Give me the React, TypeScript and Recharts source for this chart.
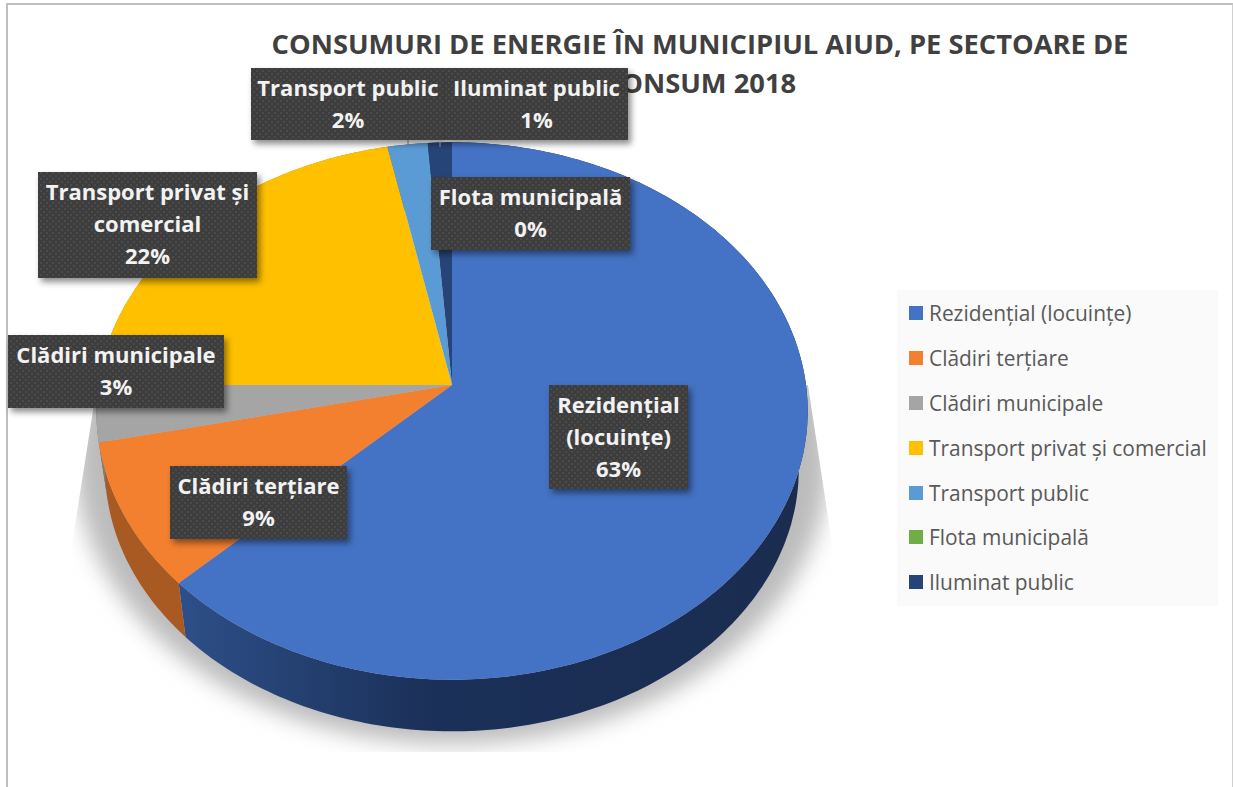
import { Legend, Pie, PieChart } from "recharts"

const categories = [
  "Rezidențial (locuințe)",
  "Clădiri terțiare",
  "Clădiri municipale",
  "Transport privat și comercial",
  "Transport public",
  "Flota municipală",
  "Iluminat public",
]
const shares = [62.8, 8.8, 3.4, 21.8, 2, 0, 1.2]
const colors = ["#4472c4", "#f2802f", "#a5a5a5", "#ffc000", "#5b9bd5", "#70ad47", "#264478"]
const wallColors = ["url(#wallBlue)", "#a95a22", "#7c7c7c", "#bf9000", "#44749f", "#54823a", "#1c335a"]

const data = categories.map((name, i) => ({ name, value: shares[i], fill: colors[i] }))
const shadowData = [{ name: "umbra", value: shares.reduce((a, b) => a + b, 0) }]

// label boxes sit where the original had them dragged, not on the slices
const labelBoxes = [
  { x: 549, y: 385, w: 139, h: 104, lines: ["Rezidențial", "(locuințe)"] },
  { x: 170, y: 466, w: 177, h: 73, lines: ["Clădiri terțiare"] },
  { x: 8, y: 335, w: 216, h: 73, lines: ["Clădiri municipale"] },
  { x: 38, y: 172, w: 219, h: 106, lines: ["Transport privat și", "comercial"] },
  { x: 251, y: 68, w: 194, h: 72, lines: ["Transport public"], leader: 408 },
  { x: 431, y: 177, w: 199, h: 73, lines: ["Flota municipală"] },
  { x: 445, y: 68, w: 183, h: 72, lines: ["Iluminat public"], leader: 440 },
]

const FONT = "'Open Sans', sans-serif"
const YSCALE = 0.752
const TILT = 0.0967

// perspective view of the pie disc, so the centre is not the middle of the ellipse
function project(cx: number, cy: number, r: number, deg: number, scale = 1, dy = 0) {
  const rad = (deg * Math.PI) / 180
  const u = Math.cos(rad)
  const v = -Math.sin(rad)
  const w = 1 - TILT * v
  return [cx + (scale * r * u) / w, cy + dy + (scale * r * YSCALE * v) / w]
}

function arc(cx: number, cy: number, r: number, a0: number, a1: number, scale = 1, dy = 0) {
  const n = Math.max(1, Math.ceil(Math.abs(a1 - a0)))
  const pts = []
  for (let i = 0; i <= n; i++) pts.push(project(cx, cy, r, a0 + ((a1 - a0) * i) / n, scale, dy))
  return pts
}

const toPath = (pts: number[][]) =>
  "M" + pts.map((p) => p[0].toFixed(1) + "," + p[1].toFixed(1)).join("L") + "Z"

function TopSlice(props: any) {
  const { cx, cy, outerRadius, startAngle, endAngle, fill } = props
  const pts = [[cx, cy], ...arc(cx, cy, outerRadius, startAngle, endAngle)]
  return <path d={toPath(pts)} fill={fill} />
}

function WallSlice(props: any) {
  const { cx, cy, outerRadius, startAngle, endAngle, index } = props
  const top = arc(cx, cy, outerRadius, startAngle, endAngle)
  const bottom = arc(cx, cy, outerRadius, startAngle, endAngle, 0.975, 59).reverse()
  return <path d={toPath([...top, ...bottom])} fill={wallColors[index]} />
}

function ShadowDisc(props: any) {
  const { cx, cy, outerRadius, startAngle, endAngle } = props
  return (
    <g clipPath="url(#shadowClip)">
      <path
        d={toPath(arc(cx, cy, outerRadius, startAngle, endAngle, 1.06, 47))}
        fill="#bcbcbc"
        filter="url(#shadowBlur)"
      />
    </g>
  )
}

function SliceLabel(props: any) {
  const { index, percent } = props
  const box = labelBoxes[index]
  const midX = box.x + box.w / 2
  const rows = [...box.lines, `${Math.round(percent * 100)}%`]
  return (
    <g>
      {box.leader && <line x1={box.leader} x2={box.leader} y1={box.y + box.h} y2={box.y + box.h + 7} stroke="#8a8a8a" />}
      <rect x={box.x} y={box.y} width={box.w} height={box.h} fill="#3c3c3c" filter="url(#boxShadow)" />
      <rect x={box.x} y={box.y} width={box.w} height={box.h} fill="url(#boxDots)" />
      {rows.map((row, i) => (
        <text
          key={row}
          x={midX}
          y={box.y + 28 + i * 32}
          textAnchor="middle"
          fill="#f2f2f2"
          fontFamily={FONT}
          fontWeight={700}
          fontSize={22}
        >
          {row}
        </text>
      ))}
    </g>
  )
}

function LegendBox({ payload }: any) {
  const items = (payload || []).filter((p: any) => p.type !== "none")
  return (
    <div style={{ background: "#fafafa", width: 321, height: 316, paddingTop: 1, boxSizing: "border-box" }}>
      {items.map((p: any) => (
        <div key={p.value} style={{ display: "flex", alignItems: "center", height: 44.8, paddingLeft: 12 }}>
          <span style={{ width: 14, height: 14, background: p.payload?.fill ?? p.color, marginRight: 6 }} />
          <span style={{ fontFamily: FONT, fontSize: 20.9, color: "#595959", whiteSpace: "nowrap" }}>{p.value}</span>
        </div>
      ))}
    </div>
  )
}

export default function App() {
  return (
    <div style={{ position: "absolute", left: 0, top: 0, width: 1233, height: 787, background: "#fff", overflow: "hidden" }}>
      <div
        style={{
          position: "absolute",
          left: 6,
          top: 3,
          width: 1224,
          height: 784,
          borderTop: "2px solid #bfbfbf",
          borderLeft: "2px solid #bfbfbf",
          borderRight: "2px solid #d0d0d0",
        }}
      />
      <div
        style={{
          position: "absolute",
          left: 200,
          top: 24,
          width: 1000,
          textAlign: "center",
          fontFamily: FONT,
          fontWeight: 700,
          fontSize: 27.3,
          lineHeight: "39px",
          color: "#404040",
        }}
      >
        CONSUMURI DE ENERGIE ÎN MUNICIPIUL AIUD, PE SECTOARE DE
        <br />
        CONSUM 2018
      </div>
      <PieChart width={1233} height={787} margin={{ top: 0, right: 0, bottom: 0, left: 0 }} style={{ position: "absolute", left: 0, top: 0 }}>
        <defs>
          <linearGradient id="wallBlue" x1="0" x2="1" y1="0" y2="0">
            <stop offset="0" stopColor="#2d4f88" />
            <stop offset="0.4" stopColor="#1b3058" />
            <stop offset="1" stopColor="#1a2d50" />
          </linearGradient>
          <filter id="shadowBlur" x="-10%" y="-10%" width="120%" height="120%">
            <feGaussianBlur stdDeviation="11" />
          </filter>
          <clipPath id="shadowClip">
            <polygon points="97,385 808,385 836,570 836,752 68,752 68,570" />
          </clipPath>
          <filter id="boxShadow" x="-10%" y="-10%" width="125%" height="135%">
            <feDropShadow dx="3" dy="4" stdDeviation="3" floodColor="#000" floodOpacity="0.45" />
          </filter>
          <pattern id="boxDots" width="6" height="6" patternUnits="userSpaceOnUse">
            <rect x="1" y="1" width="2" height="2" fill="#4b4b4b" />
            <rect x="4" y="4" width="2" height="2" fill="#4b4b4b" />
          </pattern>
        </defs>
        <Pie
          data={shadowData}
          dataKey="value"
          cx={452}
          cy={385}
          outerRadius={354}
          startAngle={90}
          endAngle={-270}
          legendType="none"
          stroke="none"
          shape={ShadowDisc}
          isAnimationActive={false}
        />
        <Pie
          data={data}
          dataKey="value"
          cx={452}
          cy={385}
          outerRadius={354}
          startAngle={90}
          endAngle={-270}
          legendType="none"
          stroke="none"
          shape={WallSlice}
          isAnimationActive={false}
        />
        <Pie
          data={data}
          dataKey="value"
          nameKey="name"
          cx={452}
          cy={385}
          outerRadius={354}
          startAngle={90}
          endAngle={-270}
          legendType="square"
          stroke="none"
          shape={TopSlice}
          label={SliceLabel}
          labelLine={false}
          isAnimationActive={false}
        />
        <Legend
          layout="vertical"
          align="right"
          verticalAlign="top"
          itemSorter={null}
          content={LegendBox}
          wrapperStyle={{ left: 897, top: 290, width: 321 }}
        />
      </PieChart>
    </div>
  )
}
